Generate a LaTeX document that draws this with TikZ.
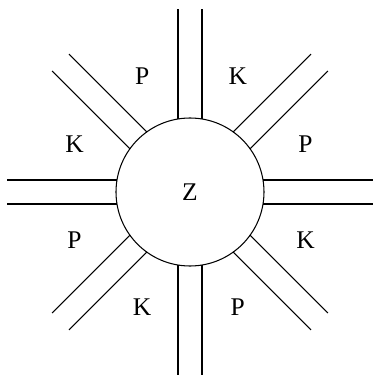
\documentclass[tikz,border=0pt]{standalone}
\usepackage{fontspec}
\setmainfont{Liberation Serif}
\begin{document}
\begin{tikzpicture}[line width=0.6pt,
        lab/.style={font=\fontsize{14.5}{16}\selectfont}]
        \useasboundingbox (-3.8,-3.72) rectangle (3.68,3.84);
        \node[draw,circle,minimum size=2.96cm,inner sep=0pt,lab] (z) at (0,0) {Z};
        % arms
        \foreach \a in {0,45,...,315} {
            \draw[rotate=\a] (1.46,0.24) -- (3.66,0.24);
            \draw[rotate=\a] (1.46,-0.24) -- (3.66,-0.24);
        }
        % labels between the arms
        \foreach \a/\t [count=\i] in {22.5/P,67.5/K,112.5/P,157.5/K,202.5/P,247.5/K,292.5/P,337.5/K}
            \node[lab] (l\i) at (\a:2.5) {\t};
    \end{tikzpicture}
\end{document}
